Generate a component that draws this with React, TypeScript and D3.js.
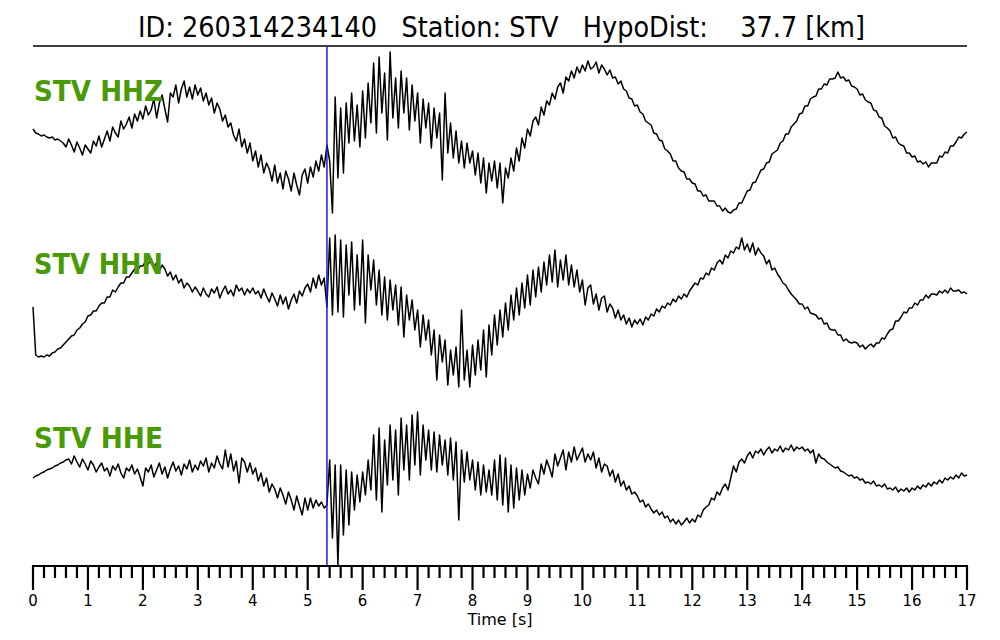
import React from "react";
import * as d3 from "d3";

const TITLE = "ID: 260314234140   Station: STV   HypoDist:    37.7 [km]";
const SAMPLE_DT = 0.05; // seconds per sample
const PICK_TIME = 5.35; // P pick (blue line)
const X_MAX = 17;
const X_TICKS = [0, 1, 2, 3, 4, 5, 6, 7, 8, 9, 10, 11, 12, 13, 14, 15, 16, 17];
const X_LABEL = "Time [s]";

// Relative amplitudes, one row per second (20 samples each)
const HHZ = [
  4, 0, -1, -3, -2, -4, -5, -4, -7, -6, -8, -10, -14, -6, -12, -19, -9, -15, -22, -12,
  -16, -20, -8, -13, -3, -14, -6, 2, -8, 6, 0, -4, 12, 4, 9, 16, 5, 19, 12, 22,
  14, 27, 18, 23, 34, 15, 30, 38, 24, 11, 40, 36, 48, 30, 44, 52, 36, 46, 34, 48,
  38, 45, 32, 40, 28, 35, 20, 30, 24, 12, 18, 6, 10, -2, -8, 4, -14, -6, -20, -10,
  -28, -18, -34, -22, -40, -30, -36, -48, -32, -50, -40, -56, -38, -46, -58, -40, -52, -62, -42, -36,
  -50, -34, -44, -28, -38, -22, -34, -12, -28, -80, 36, -45, 25, -40, 30, -10, 40, -8, 28, -14,
  42, -5, 50, 10, 70, 0, 76, 20, 60, -7, 81, 15, 55, 5, 62, 20, 55, 3, 48, 12,
  40, -10, 34, 5, 30, -15, 25, -5, 20, -47, 40, -20, 10, -25, 2, -30, -8, -35, -10, -30,
  -18, -42, -20, -50, -25, -60, -30, -48, -28, -55, -30, -70, -35, -45, -25, -38, -15, -28, -5, -15,
  4, -3, 12, 16, 8, 26, 18, 32, 28, 40, 34, 46, 50, 40, 56, 52, 62, 55, 66, 60,
  68, 62, 72, 64, 66, 71, 60, 68, 64, 58, 63, 55, 56, 49, 52, 44, 42, 35, 34, 27,
  28, 21, 19, 12, 10, 8, 0, -1, -7, -8, -16, -18, -21, -28, -28, -35, -38, -39, -46, -46,
  -50, -51, -58, -58, -63, -62, -68, -68, -68, -73, -73, -78, -75, -79, -80, -77, -76, -70, -70, -64,
  -58, -57, -50, -49, -43, -37, -36, -30, -29, -21, -19, -17, -10, -8, -1, -1, 6, 9, 12, 19,
  20, 27, 27, 34, 36, 37, 44, 44, 49, 48, 54, 54, 55, 61, 55, 56, 52, 53, 47, 46,
  44, 38, 39, 33, 31, 30, 23, 22, 16, 15, 7, 5, 2, -5, -4, -10, -12, -13, -20, -20,
  -24, -23, -29, -28, -31, -29, -34, -30, -30, -30, -23, -24, -19, -20, -13, -13, -9, -4, -5, -1,
  1,
];

const HHN = [
  -7, -55, -57, -56, -57, -55, -56, -53, -52, -49, -48, -45, -42, -39, -36, -35, -30, -28, -24, -22,
  -16, -15, -11, -11, -6, -3, -3, 3, 3, 10, 8, 13, 17, 17, 23, 23, 27, 31, 29, 34,
  34, 39, 36, 41, 33, 37, 29, 35, 31, 24, 28, 20, 25, 17, 21, 12, 17, 14, 8, 13,
  9, 4, 12, 6, 3, 11, 7, 13, 2, 9, 14, 6, 10, 4, 15, 9, 12, 5, 11, 7,
  12, 6, 9, 2, 11, 4, -2, 7, 1, -6, 5, -4, 3, -9, 0, 6, -3, 9, 4, 12,
  16, 8, 22, 12, 25, 15, 22, -7, 62, -15, 65, -12, 60, -17, 55, 5, 58, -10, 45, -5,
  60, -23, 45, 10, 40, -5, 30, -15, 23, -20, 20, -10, 15, -25, 13, -37, 5, -20, 0, -30,
  -10, -47, -15, -40, -20, -55, -30, -80, -35, -62, -40, -85, -50, -75, -47, -87, -10, -80, -50, -87,
  -45, -75, -40, -70, -30, -77, -25, -55, -15, -45, -10, -37, -3, -30, 5, -20, 12, -15, 17, -8,
  25, -5, 30, 3, 33, 8, 38, 15, 45, 18, 50, 13, 40, 20, 45, 15, 35, 13, 30, 8,
  20, -5, 12, 15, -4, 6, -10, 2, 4, -12, -4, -8, -18, -10, -20, -15, -24, -18, -27, -20,
  -24, -19, -25, -17, -20, -14, -16, -9, -12, -6, -8, -3, -5, 1, -2, 4, 1, 6, 3, 9,
  13, 17, 15, 22, 21, 27, 25, 32, 30, 37, 40, 36, 45, 42, 49, 47, 53, 51, 62, 50,
  56, 48, 57, 45, 52, 47, 44, 36, 40, 30, 32, 26, 22, 17, 15, 10, 6, 3, 0, -4,
  -4, -9, -7, -13, -14, -15, -19, -18, -24, -23, -29, -30, -30, -35, -35, -41, -39, -42, -43, -42,
  -43, -47, -45, -49, -46, -44, -47, -43, -43, -38, -39, -34, -30, -29, -21, -21, -17, -12, -13, -8,
  -8, -3, -5, 0, 0, 5, 2, 6, 6, 5, 9, 7, 10, 7, 12, 9, 9, 10, 7, 8,
  6,
];

const HHE = [
  2, 4, 5, 7, 8, 10, 11, 12, 14, 15, 17, 18, 20, 21, 16, 24, 18, 13, 21, 16,
  10, 19, 15, 8, 13, 17, 9, 12, 4, 14, 10, 16, 7, 2, 12, 9, 15, 6, 11, 3,
  -6, 12, 8, 15, 3, 10, 17, 6, 13, 2, 11, 18, 9, 14, 5, 16, 11, 20, 8, 15,
  10, 19, 14, 22, 8, 17, 12, 24, 16, 11, 30, 13, 26, 9, 19, -3, 22, 18, 8, 17,
  6, 12, -1, 7, -6, 2, -12, -4, -9, -18, -8, -15, -24, -12, -20, -30, -16, -26, -35, -18,
  -30, -18, -28, -20, -26, -22, -28, -25, 20, -58, 15, -85, 15, -55, 10, -45, 8, -30, 5, -22,
  8, -15, 20, -10, 45, -20, 52, -32, 40, -5, 55, 0, 50, -15, 62, 10, 55, 0, 65, 15,
  68, 5, 55, 20, 50, 10, 48, 8, 45, 15, 40, 5, 42, 0, 38, -40, 30, -2, 28, 0,
  20, -10, 18, -15, 15, -12, 10, -15, 20, -20, 25, -25, 22, -32, 15, -28, 12, -20, 10, -15,
  6, -8, 10, 2, -4, 16, 6, 20, 12, 3, 26, 14, 22, 30, 10, 28, 18, 33, 20, 26,
  32, 18, 26, 20, 28, 12, 22, 8, 16, 14, 4, 10, -2, 6, -6, -1, -10, -6, -14, -12,
  -16, -22, -20, -27, -24, -29, -33, -30, -35, -32, -38, -36, -42, -39, -44, -40, -45, -42, -38, -43,
  -39, -42, -35, -37, -30, -27, -25, -18, -20, -12, -15, -8, -4, -10, 2, 14, 8, 18, 21, 17,
  24, 28, 22, 29, 27, 31, 25, 30, 33, 27, 31, 29, 34, 28, 32, 30, 35, 29, 33, 31,
  33, 29, 31, 27, 30, 17, 26, 22, 21, 18, 16, 14, 12, 13, 9, 8, 6, 4, 5, 2,
  3, 0, 1, -3, -2, -4, -1, -6, -5, -7, -4, -9, -8, -10, -7, -12, -9, -11, -8, -12,
  -8, -10, -6, -9, -5, -7, -3, -6, -2, -4, 0, -3, 2, 0, 3, 1, 5, 2, 7, 4,
  5,
];

const TRACE_NAMES = ["STV HHZ", "STV HHN", "STV HHE"];
const TRACE_DATA = [HHZ, HHN, HHE];

const W = 1000;
const H = 640;
const LEFT = 33;
const RIGHT = 967;
const AXIS_Y = 566;
const CENTERS = [133, 300, 480];
const LABEL_BASE = [101, 274, 448];
const GREEN = "#4a9a06";
const FONT = "'DejaVu Sans', sans-serif";

export default function App() {
  const x = d3.scaleLinear().domain([0, X_MAX]).range([LEFT, RIGHT]);
  const minorTicks = d3.range(0, X_MAX * 5 + 1).map((i) => i / 5);

  return (
    <svg
      width={W}
      height={H}
      style={{ position: "absolute", left: 0, top: 0, background: "#fff" }}
    >
      <rect x={0} y={0} width={W} height={H} fill="#fff" />
      <text
        x={138}
        y={37}
        fontFamily={FONT}
        fontSize={29}
        textLength={727}
        lengthAdjust="spacingAndGlyphs"
        style={{ whiteSpace: "pre" }}
        fill="#000"
      >
        {TITLE}
      </text>
      <line x1={LEFT} x2={RIGHT} y1={46} y2={46} stroke="#000" strokeWidth={1.5} />

      {TRACE_DATA.map((data, k) => {
        const y = d3
          .scaleLinear()
          .domain([-100, 100])
          .range([CENTERS[k] + 100, CENTERS[k] - 100]);
        const line = d3
          .line<number>()
          .x((_, i) => x(i * SAMPLE_DT))
          .y((v) => y(v));
        return (
          <path
            key={k}
            d={line(data) || ""}
            fill="none"
            stroke="#000"
            strokeWidth={1.5}
            strokeLinejoin="round"
          />
        );
      })}

      {TRACE_NAMES.map((name, k) => (
        <text
          key={name}
          x={34}
          y={LABEL_BASE[k]}
          fontFamily={FONT}
          fontWeight="bold"
          fontSize={28}
          textLength={129}
          lengthAdjust="spacingAndGlyphs"
          fill={GREEN}
        >
          {name}
        </text>
      ))}

      <line
        x1={x(PICK_TIME)}
        x2={x(PICK_TIME)}
        y1={46}
        y2={AXIS_Y}
        stroke="#1a1adb"
        strokeWidth={1.5}
      />

      <line x1={LEFT - 1} x2={RIGHT + 1} y1={AXIS_Y} y2={AXIS_Y} stroke="#000" strokeWidth={2} />
      {minorTicks.map((t) => {
        const major = Math.abs(t - Math.round(t)) < 1e-6;
        return (
          <line
            key={t}
            x1={x(t)}
            x2={x(t)}
            y1={AXIS_Y}
            y2={AXIS_Y + (major ? 24 : 12)}
            stroke="#000"
            strokeWidth={2.2}
          />
        );
      })}
      {X_TICKS.map((t) => (
        <text
          key={t}
          x={x(t)}
          y={606}
          textAnchor="middle"
          fontFamily={FONT}
          fontSize={15}
          fill="#000"
        >
          {t}
        </text>
      ))}
      <text
        x={500}
        y={625}
        textAnchor="middle"
        fontFamily={FONT}
        fontSize={16}
        fill="#000"
      >
        {X_LABEL}
      </text>
    </svg>
  );
}
